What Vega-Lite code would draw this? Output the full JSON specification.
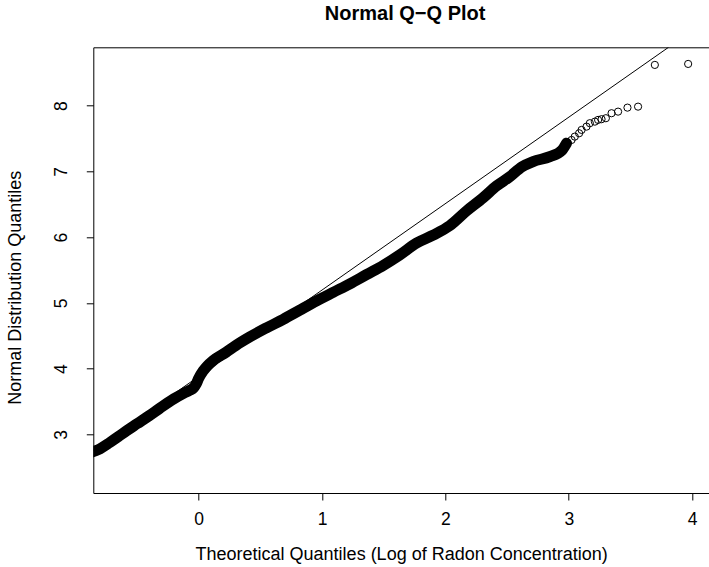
{
  "$schema": "https://vega.github.io/schema/vega-lite/v6.json",
  "width": 615.7,
  "height": 445.7,
  "autosize": {"type": "none"},
  "padding": {"left": 93.3, "top": 47.3, "right": 0, "bottom": 74},
  "background": "white",
  "title": {"text": "Normal Q\u2212Q Plot", "font": "Liberation Sans", "fontSize": 20, "fontWeight": "bold", "color": "black", "anchor": "middle", "offset": 23, "dx": 4},
  "config": {
    "view": {"stroke": null},
    "axis": {"grid": false, "domainColor": "black", "tickColor": "black", "labelColor": "black", "titleColor": "black", "labelFont": "Liberation Sans", "titleFont": "Liberation Sans", "labelFontSize": 17.5, "titleFontSize": 18, "titleFontWeight": "normal", "tickSize": 7, "domainWidth": 1, "tickWidth": 1}
  },
  "datasets": {
    "band": [
      {"x": -0.88, "y": 2.72}, {"x": -0.80, "y": 2.78}, {"x": -0.72, "y": 2.875}, {"x": -0.65, "y": 2.965},
      {"x": -0.587, "y": 3.05}, {"x": -0.50, "y": 3.16}, {"x": -0.40, "y": 3.285}, {"x": -0.316, "y": 3.395},
      {"x": -0.20, "y": 3.54}, {"x": -0.12, "y": 3.625}, {"x": -0.073, "y": 3.67}, {"x": -0.04, "y": 3.71},
      {"x": -0.019, "y": 3.77}, {"x": 0.0, "y": 3.85}, {"x": 0.035, "y": 3.96}, {"x": 0.07, "y": 4.04},
      {"x": 0.116, "y": 4.12}, {"x": 0.224, "y": 4.25}, {"x": 0.30, "y": 4.35}, {"x": 0.413, "y": 4.48},
      {"x": 0.55, "y": 4.62}, {"x": 0.686, "y": 4.75}, {"x": 0.82, "y": 4.89}, {"x": 0.956, "y": 5.03},
      {"x": 1.09, "y": 5.16}, {"x": 1.226, "y": 5.29}, {"x": 1.36, "y": 5.43}, {"x": 1.496, "y": 5.57},
      {"x": 1.631, "y": 5.73}, {"x": 1.767, "y": 5.91}, {"x": 1.901, "y": 6.03}, {"x": 2.036, "y": 6.175},
      {"x": 2.172, "y": 6.40}, {"x": 2.306, "y": 6.60}, {"x": 2.415, "y": 6.78}, {"x": 2.523, "y": 6.92},
      {"x": 2.62, "y": 7.07}, {"x": 2.711, "y": 7.15}, {"x": 2.847, "y": 7.225}, {"x": 2.942, "y": 7.317},
      {"x": 2.982, "y": 7.43}
    ],
    "tail": [
      {"x": 2.982, "y": 7.43},
      {"x": 3.023, "y": 7.479}, {"x": 3.049, "y": 7.530}, {"x": 3.084, "y": 7.581}, {"x": 3.104, "y": 7.632},
      {"x": 3.144, "y": 7.682}, {"x": 3.171, "y": 7.734}, {"x": 3.212, "y": 7.758}, {"x": 3.238, "y": 7.784},
      {"x": 3.266, "y": 7.795}, {"x": 3.301, "y": 7.810}, {"x": 3.347, "y": 7.886}, {"x": 3.400, "y": 7.910},
      {"x": 3.476, "y": 7.971}, {"x": 3.562, "y": 7.986}, {"x": 3.698, "y": 8.621}, {"x": 3.968, "y": 8.636}
    ],
    "refline": [
      {"x": -0.854, "y": 2.757}, {"x": 3.809, "y": 8.889}
    ]
  },
  "layer": [
    {
      "data": {"name": "band"},
      "mark": {"type": "line", "color": "black", "strokeWidth": 11, "strokeCap": "round", "strokeJoin": "round", "interpolate": "monotone", "clip": true},
      "encoding": {
        "x": {"field": "x", "type": "quantitative", "scale": {"domain": [-0.854, 4.137], "nice": false, "zero": false},
              "axis": {"orient": "bottom", "values": [0, 1, 2, 3, 4], "title": "Theoretical Quantiles (Log of Radon Concentration)", "labelPadding": 10, "titlePadding": 18}},
        "y": {"field": "y", "type": "quantitative", "scale": {"domain": [2.107, 8.889], "nice": false, "zero": false},
              "axis": {"values": [3, 4, 5, 6, 7, 8], "title": "Normal Distribution Quantiles", "labelAngle": -90, "labelAlign": "center", "labelBaseline": "bottom", "labelPadding": 16, "titlePadding": 28, "titleY": 240}}
      }
    },
    {
      "data": {"name": "refline"},
      "mark": {"type": "line", "color": "black", "strokeWidth": 1, "clip": true},
      "encoding": {
        "x": {"field": "x", "type": "quantitative", "axis": null},
        "y": {"field": "y", "type": "quantitative",
              "axis": {"values": [3, 4, 5, 6, 7, 8], "title": "Normal Distribution Quantiles", "labelAngle": -90, "labelAlign": "center", "labelBaseline": "bottom", "labelPadding": 16, "titlePadding": 28, "titleY": 240}}
      }
    },
    {
      "data": {"name": "tail"},
      "mark": {"type": "point", "shape": "circle", "filled": false, "color": "black", "strokeWidth": 1, "size": 52, "opacity": 1, "clip": true},
      "encoding": {
        "x": {"field": "x", "type": "quantitative", "axis": {"orient": "top", "labels": false, "ticks": false, "title": null, "domain": true}},
        "y": {"field": "y", "type": "quantitative",
              "axis": {"values": [3, 4, 5, 6, 7, 8], "title": "Normal Distribution Quantiles", "labelAngle": -90, "labelAlign": "center", "labelBaseline": "bottom", "labelPadding": 16, "titlePadding": 28, "titleY": 240}}
      }
    }
  ],
  "resolve": {"axis": {"x": "independent"}}
}
